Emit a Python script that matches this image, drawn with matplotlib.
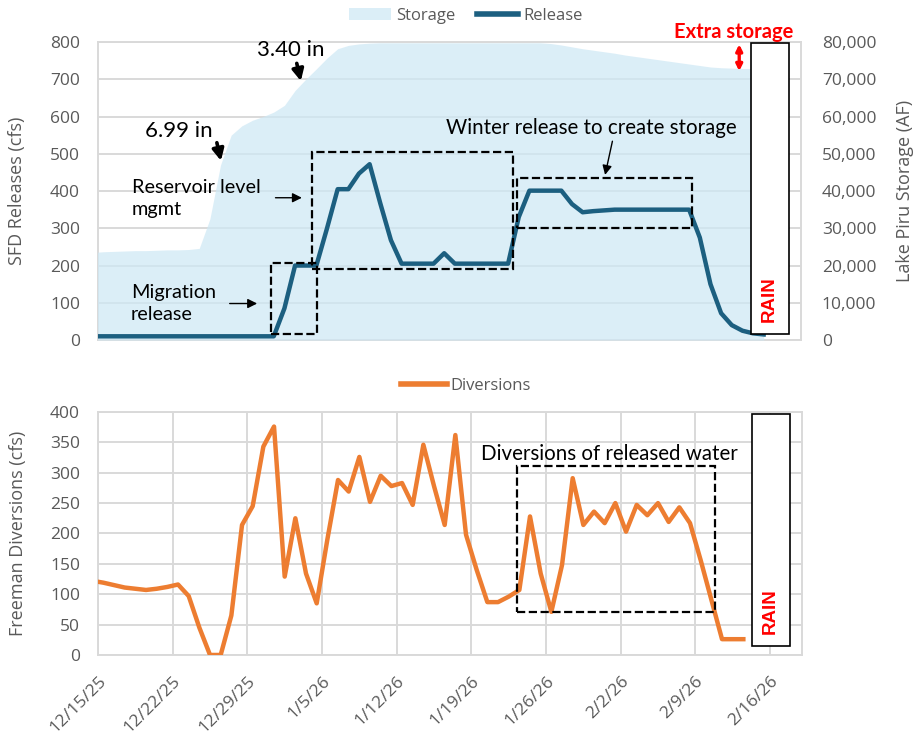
import numpy as np
import pandas as pd
import matplotlib
matplotlib.use('Agg')
import matplotlib.pyplot as plt
from matplotlib.patches import Rectangle, Patch
from matplotlib.lines import Line2D

plt.rcParams['font.family'] = ['Open Sans', 'DejaVu Sans']

# Data (daily values, first value is 12/14/25)
first_day = '2025-12-14'
release_cfs = [10, 10, 10, 10, 10, 10, 10, 10, 10, 10, 10, 10, 10, 10, 10, 10, 10, 10,
               85, 200, 200, 200, 300, 405, 405, 447, 472, 367, 268,
               205, 205, 205, 205, 233, 205, 205, 205, 205, 205, 205,
               330, 401, 401, 401, 401, 365, 343, 346, 348,
               350, 350, 350, 350, 350, 350, 350, 350,
               275, 150, 72, 40, 25, 18, 15]
storage_af = [23500, 23700, 23800, 23900, 24000, 24000, 24100, 24200, 24200, 24300,
              24600, 32500, 47000, 55000, 57500, 59000, 60000, 61200, 63000, 67000,
              70000, 72800, 75700, 78200, 79100, 79500, 79700,
              79800, 79800, 79800, 79800, 79800, 79800, 79800, 79800,
              79800, 79800, 79800, 79800, 79800, 79800, 79800, 79800,
              79600, 79200, 78700, 78200, 77800, 77400, 77000, 76500, 76100, 75700,
              75300, 74900, 74500, 74100, 73700, 73300, 73100, 73000, 72900, 72900, 72900]
diversions_cfs = [122, 119, 115, 111, 109, 107, 109, 112, 116, 97, 45, 0, 0, 65, 214, 245,
                  343, 376, 129, 225, 134, 85, 190, 288, 269, 326, 252, 295, 278, 283,
                  247, 346, 278, 214, 362, 198, 140, 87, 87, 96, 107, 228, 134, 71, 148,
                  291, 214, 236, 217, 250, 203, 247, 230, 250, 219, 243, 217, 156, 91,
                  26, 26, 26]
xtick_labels = ['12/15/25', '12/22/25', '12/29/25', '1/5/26', '1/12/26',
                '1/19/26', '1/26/26', '2/2/26', '2/9/26', '2/16/26']

# x positions: days since 12/15/25, points sit in the middle of each day
t0 = pd.Timestamp('2025-12-15')
x_rel = (pd.date_range(first_day, periods=len(release_cfs)) - t0).days + 0.5
x_sto = (pd.date_range(first_day, periods=len(storage_af)) - t0).days + 0.5
x_div = (pd.date_range(first_day, periods=len(diversions_cfs)) - t0).days + 0.5

release_color = '#1c5f80'
storage_color = '#cee8f5'
div_color = '#ed7d31'
tick_color = '#595959'
grid_color = '#d9d9d9'
note_font = ['Lato', 'DejaVu Sans']
rain_font = ['Liberation Sans', 'DejaVu Sans']

fig = plt.figure(figsize=(9.17, 7.40), dpi=100)

# ---------------- top chart ----------------
ax = fig.add_axes([0.1069, 0.5405, 0.7666, 0.4027])
ax2 = ax.twinx()
ax.set_zorder(ax2.get_zorder() + 1)
ax.patch.set_visible(False)

# storage area sits on the back axes, semi transparent over its own grid
ax2.fill_between(x_sto, storage_af, color=storage_color, alpha=0.72, lw=0, zorder=1)
ax2.set_ylim(0, 80000)
ax2.set_xlim(0, 66)
ax2.set_xticks(np.arange(0, 64, 7))
ax2.set_yticks(np.arange(0, 80001, 10000))
ax2.set_yticklabels([f'{v:,.0f}' for v in np.arange(0, 80001, 10000)])
ax2.grid(True, color=grid_color, lw=1.4)
ax2.set_axisbelow(True)
ax2.tick_params(axis='both', length=0, labelbottom=False)
ax2.tick_params(axis='y', pad=15, labelsize=12.5, colors=tick_color)
ax2.set_ylabel('Lake Piru Storage (AF)', fontsize=13, color=tick_color, va='center')
ax2.yaxis.set_label_coords(1.148, 0.5)
for s in ax2.spines.values():
    s.set_edgecolor(grid_color)
    s.set_linewidth(1.4)
    s.set_zorder(0.6)

ax.plot(x_rel, release_cfs, color=release_color, lw=3.2, zorder=3, solid_joinstyle='round')
ax.set_xlim(0, 66)
ax.set_ylim(0, 800)
ax.set_yticks(np.arange(0, 801, 100))
ax.tick_params(axis='both', length=0, labelbottom=False)
ax.tick_params(axis='y', pad=13, labelsize=12.5, colors=tick_color)
ax.set_ylabel('SFD Releases (cfs)', fontsize=13, color=tick_color, va='center')
ax.yaxis.set_label_coords(-0.115, 0.5)
for s in ax.spines.values():
    s.set_visible(False)

# dashed boxes
for x0, x1, y0, y1 in [(16.2, 20.6, 15, 206), (20.1, 38.95, 192, 505), (39.3, 55.75, 301, 434)]:
    ax.add_patch(Rectangle((x0, y0), x1 - x0, y1 - y0, fill=False, ls='--', lw=1.6,
                           ec='black', zorder=4))

# rainfall labels
ax.text(18.1, 778, '3.40 in', fontsize=16, family=note_font, ha='center', va='center')
ax.annotate('', xy=(19.1, 688), xytext=(18.6, 750),
            arrowprops=dict(arrowstyle='-|>', lw=2.6, color='black', mutation_scale=17))
ax.text(7.6, 561, '6.99 in', fontsize=16, family=note_font, ha='center', va='center')
ax.annotate('', xy=(11.6, 474), xytext=(11.1, 537),
            arrowprops=dict(arrowstyle='-|>', lw=2.6, color='black', mutation_scale=17))

ax.text(3.2, 380, 'Reservoir level\nmgmt', fontsize=14.3, family=note_font,
        ha='left', va='center', linespacing=1.35)
ax.annotate('', xy=(19.4, 382), xytext=(16.4, 382),
            arrowprops=dict(arrowstyle='-|>', lw=1, color='black', mutation_scale=14))
ax.text(3.1, 97, 'Migration\nrelease', fontsize=14.3, family=note_font,
        ha='left', va='center', linespacing=1.35)
ax.annotate('', xy=(15.2, 98), xytext=(12.1, 98),
            arrowprops=dict(arrowstyle='-|>', lw=1, color='black', mutation_scale=14))
ax.text(32.7, 570, 'Winter release to create storage', fontsize=14.8, family=note_font,
        ha='left', va='center')
ax.annotate('', xy=(47.55, 436), xytext=(48.35, 541),
            arrowprops=dict(arrowstyle='-|>', lw=1, color='black', mutation_scale=14))

# extra storage
ax.text(59.7, 826, 'Extra storage', fontsize=14.5, family=note_font, weight='bold',
        color='#ff0000', ha='center', va='center', clip_on=False)
ax.annotate('', xy=(60.2, 794), xytext=(60.2, 722),
            arrowprops=dict(arrowstyle='<|-|>', lw=2.4, color='#ff0000', mutation_scale=9,
                            shrinkA=0, shrinkB=0))

ax.add_patch(Rectangle((61.27, 15), 3.6, 782, fc='white', ec='black', lw=1.2, zorder=5))
ax.text(63.05, 109, 'RAIN', rotation=90, fontsize=13.5, family=rain_font, weight='bold',
        color='#ff0000', ha='center', va='center', zorder=6)

fig.legend(handles=[Patch(facecolor=storage_color, edgecolor='none', alpha=0.72),
                    Line2D([], [], color=release_color, lw=4)],
           labels=['Storage', 'Release'], ncol=2, frameon=False, loc='center',
           bbox_to_anchor=(466 / 917, 1 - 16 / 740), fontsize=12, labelcolor=tick_color,
           handlelength=2.5, handletextpad=0.3, columnspacing=1.3)

# ---------------- bottom chart ----------------
ax3 = fig.add_axes([0.1069, 0.1149, 0.7677, 0.3284])
ax3.plot(x_div, diversions_cfs, color=div_color, lw=3.2, zorder=3, solid_joinstyle='round')
ax3.set_xlim(0, 66)
ax3.set_ylim(0, 400)
ax3.set_yticks(np.arange(0, 401, 50))
ax3.set_xticks(np.arange(0, 64, 7))
ax3.set_xticklabels(xtick_labels, rotation=45, ha='right', rotation_mode='anchor')
ax3.grid(True, color=grid_color, lw=1.4)
ax3.set_axisbelow(True)
ax3.tick_params(axis='both', length=0, labelsize=12.5, colors=tick_color)
ax3.tick_params(axis='y', pad=13)
ax3.tick_params(axis='x', pad=13)
ax3.set_ylabel('Freeman Diversions (cfs)', fontsize=13, color=tick_color, va='center')
ax3.yaxis.set_label_coords(-0.1136, 0.5)
for s in ax3.spines.values():
    s.set_edgecolor(grid_color)
    s.set_linewidth(1.4)

ax3.text(35.9, 330, 'Diversions of released water', fontsize=14.8, family=note_font,
         ha='left', va='center')
ax3.add_patch(Rectangle((39.3, 70), 18.5, 241, fill=False, ls='--', lw=1.6,
                        ec='black', zorder=4))
ax3.add_patch(Rectangle((61.27, 14), 3.6, 382, fc='white', ec='black', lw=1.2, zorder=5))
ax3.text(63.05, 72, 'RAIN', rotation=90, fontsize=13.5, family=rain_font, weight='bold',
         color='#ff0000', ha='center', va='center', zorder=6)

fig.legend(handles=[Line2D([], [], color=div_color, lw=4)], labels=['Diversions'],
           frameon=False, loc='center', bbox_to_anchor=(466 / 917, 1 - 386 / 740),
           fontsize=12, labelcolor=tick_color, handlelength=2.8, handletextpad=0.2)

fig.savefig('out.png', dpi=100)
